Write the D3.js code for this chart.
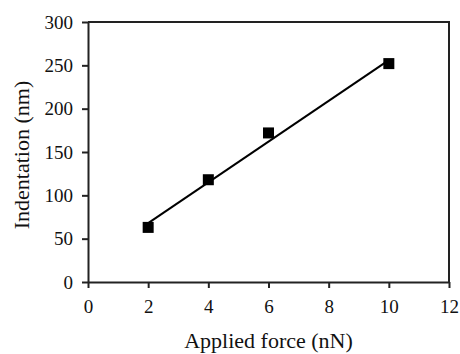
<!DOCTYPE html>
<html>
<head>
<meta charset="utf-8">
<script src="https://cdn.jsdelivr.net/npm/d3@7"></script>
<style>
  body { margin: 0; background: #fff; }
  text { font-family: "Liberation Serif", "Times New Roman", serif; fill: #111; }
</style>
</head>
<body>
<div id="chart"></div>
<script>
// measured points
var forceVals = [2, 4, 6, 10];
var indentVals = [63, 118, 172, 252];
// fitted line ends
var fitX = [2, 10];
var fitY = [68, 256];
var xTicks = [0, 2, 4, 6, 8, 10, 12];
var yTicks = [0, 50, 100, 150, 200, 250, 300];

var width = 460, height = 354;
var margin = { top: 22, right: 11, bottom: 72, left: 88 };
var w = width - margin.left - margin.right,
    h = height - margin.top - margin.bottom;

var svg = d3.select("#chart")
    .append("svg")
    .attr("width", width)
    .attr("height", height);

var g = svg.append("g")
    .attr("transform", "translate(" + margin.left + "," + margin.top + ")");

var x = d3.scaleLinear().domain([0, 12]).range([0, w]);
var y = d3.scaleLinear().domain([0, 300]).range([h, 0]);

// frame (top and right)
g.append("path")
    .attr("d", "M0,0H" + w + "V" + h)
    .attr("fill", "none")
    .attr("stroke", "#222")
    .attr("stroke-width", 2);

var xAxis = g.append("g")
    .attr("transform", "translate(0," + h + ")")
    .call(d3.axisBottom(x).tickValues(xTicks).tickSize(6).tickPadding(11.5).tickSizeOuter(0));

var yAxis = g.append("g")
    .call(d3.axisLeft(y).tickValues(yTicks).tickSize(6).tickPadding(9).tickSizeOuter(0));

[xAxis, yAxis].forEach(function(a) {
    a.attr("font-family", "Liberation Serif, serif").attr("font-size", 19);
    a.select(".domain").attr("stroke", "#222").attr("stroke-width", 2);
    a.selectAll(".tick line").attr("stroke", "#222").attr("stroke-width", 2);
    a.selectAll(".tick text")
        .style("font-family", "'Liberation Serif', serif")
        .style("font-size", "19px")
        .attr("fill", "#111");
});

// trend line
g.append("line")
    .attr("x1", x(fitX[0])).attr("y1", y(fitY[0]))
    .attr("x2", x(fitX[1])).attr("y2", y(fitY[1]))
    .attr("stroke", "#000")
    .attr("stroke-width", 2);

// markers
var ms = 11;
g.selectAll("rect.pt")
    .data(forceVals)
    .enter()
    .append("rect")
    .attr("class", "pt")
    .attr("x", function(d) { return x(d) - ms / 2; })
    .attr("y", function(d, i) { return y(indentVals[i]) - ms / 2; })
    .attr("width", ms)
    .attr("height", ms)
    .attr("fill", "#000");

// axis titles
svg.append("text")
    .attr("x", margin.left + w / 2)
    .attr("y", 348)
    .attr("text-anchor", "middle")
    .style("font-size", "22px")
    .text("Applied force (nN)");

svg.append("text")
    .attr("transform", "translate(29,155) rotate(-90)")
    .attr("text-anchor", "middle")
    .style("font-size", "22px")
    .text("Indentation (nm)");
</script>
</body>
</html>
